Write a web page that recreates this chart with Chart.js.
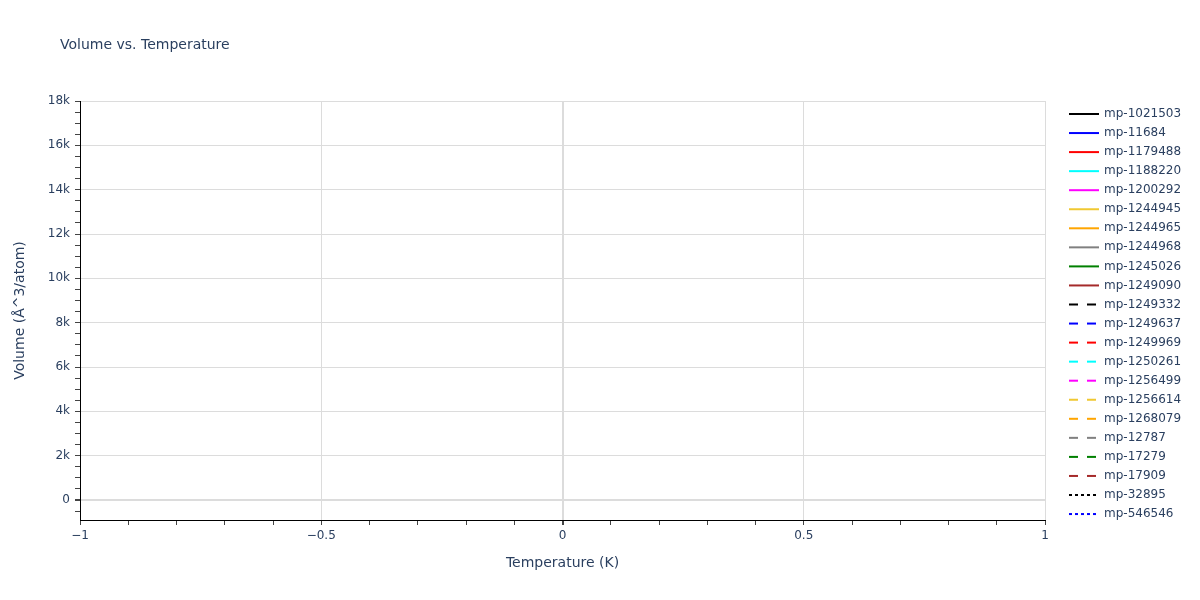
<!DOCTYPE html>
<html>
<head>
<meta charset="utf-8">
<title>Volume vs. Temperature</title>
<script src="https://cdn.jsdelivr.net/npm/chart.js@4/dist/chart.umd.min.js"></script>
<style>
  html, body { margin: 0; padding: 0; background: #fff; }
  #wrap { width: 1200px; height: 600px; }
</style>
</head>
<body>
<div id="wrap"><canvas id="volume" width="1200" height="600"></canvas></div>
<script>
// series as listed in the legend
var seriesNames = ['mp-1021503', 'mp-11684', 'mp-1179488', 'mp-1188220', 'mp-1200292', 'mp-1244945',
    'mp-1244965', 'mp-1244968', 'mp-1245026', 'mp-1249090', 'mp-1249332', 'mp-1249637', 'mp-1249969',
    'mp-1250261', 'mp-1256499', 'mp-1256614', 'mp-1268079', 'mp-12787', 'mp-17279', 'mp-17909',
    'mp-32895', 'mp-546546'];
var seriesColors = ['#000000', '#0000ff', '#ff0000', '#00ffff', '#ff00ff', '#f0c832', '#ffa500', '#808080',
    '#008000', '#a52a2a', '#000000', '#0000ff', '#ff0000', '#00ffff', '#ff00ff', '#f0c832', '#ffa500',
    '#808080', '#008000', '#a52a2a', '#000000', '#0000ff'];
var seriesDash = ['solid', 'solid', 'solid', 'solid', 'solid', 'solid', 'solid', 'solid', 'solid', 'solid',
    'dash', 'dash', 'dash', 'dash', 'dash', 'dash', 'dash', 'dash', 'dash', 'dash', 'dot', 'dot'];

// no points are plotted in the reference: every series is empty
var temperatures = [];
var volumes = [[], [], [], [], [], [], [], [], [], [], [], [], [], [], [], [], [], [], [], [], [], []];

// axis ticks
var xTicks = [-1, -0.9, -0.8, -0.7, -0.6, -0.5, -0.4, -0.3, -0.2, -0.1, 0,
    0.1, 0.2, 0.3, 0.4, 0.5, 0.6, 0.7, 0.8, 0.9, 1];
var xMajor = [-1, -0.5, 0, 0.5, 1];
var xTickLabels = ['\u22121', '\u22120.5', '0', '0.5', '1'];
var yMajor = [0, 2000, 4000, 6000, 8000, 10000, 12000, 14000, 16000, 18000];
var yTickLabels = ['0', '2k', '4k', '6k', '8k', '10k', '12k', '14k', '16k', '18k'];
var yMinorStep = 500;

var dashPatterns = { solid: [], dash: [9, 9], dot: [3, 3] };
var textColor = '#2a3f5f';
var gridColor = '#dcdcdc';

Chart.defaults.font.family = "'DejaVu Sans', sans-serif";
Chart.defaults.font.size = 12;
Chart.defaults.color = textColor;

function majorIndex(list, v) {
    for (var i = 0; i < list.length; i++) {
        if (Math.abs(list[i] - v) < 1e-6) return i;
    }
    return -1;
}

var datasets = seriesNames.map(function (name, i) {
    return {
        label: name,
        data: volumes[i].map(function (v, j) { return { x: temperatures[j], y: v }; }),
        borderColor: seriesColors[i],
        backgroundColor: seriesColors[i],
        borderWidth: 2,
        borderDash: dashPatterns[seriesDash[i]],
        pointRadius: 0,
        fill: false
    };
});

// title and legend drawn straight on the canvas, in the plotly spots
var extrasPlugin = {
    id: 'extras',
    afterDraw: function (chart) {
        var ctx = chart.ctx;
        ctx.save();
        ctx.fillStyle = textColor;
        ctx.textBaseline = 'middle';
        ctx.textAlign = 'left';
        ctx.font = "14px 'DejaVu Sans', sans-serif";
        ctx.fillText('Volume vs. Temperature', 60, 45);

        ctx.font = "12px 'DejaVu Sans', sans-serif";
        chart.data.datasets.forEach(function (ds, i) {
            var y = 114 + i * 19.05;
            ctx.beginPath();
            ctx.strokeStyle = ds.borderColor;
            ctx.lineWidth = 2;
            ctx.setLineDash(ds.borderDash);
            ctx.moveTo(1069, y);
            ctx.lineTo(1099, y);
            ctx.stroke();
            ctx.setLineDash([]);
            ctx.fillText(ds.label, 1104, y);
        });
        ctx.restore();
    }
};

var chart = new Chart(document.getElementById('volume'), {
    type: 'line',
    data: { datasets: datasets },
    plugins: [extrasPlugin],
    options: {
        responsive: false,
        animation: false,
        layout: { padding: { top: 101, right: 155, bottom: 0, left: 0 } },
        plugins: {
            legend: { display: false },
            title: { display: false },
            tooltip: { enabled: false }
        },
        scales: {
            x: {
                type: 'linear',
                min: -1,
                max: 1,
                afterFit: function (scale) { scale.height = 80; },
                afterBuildTicks: function (scale) {
                    scale.ticks = xTicks.map(function (v) { return { value: v }; });
                },
                ticks: {
                    autoSkip: false,
                    maxRotation: 0,
                    padding: 4,
                    color: textColor,
                    callback: function (v) {
                        var k = majorIndex(xMajor, v);
                        return k < 0 ? '' : xTickLabels[k];
                    }
                },
                grid: {
                    tickLength: 5,
                    tickColor: '#444',
                    color: function (c) {
                        return majorIndex(xMajor, c.tick.value) < 0 ? 'rgba(0,0,0,0)' : gridColor;
                    },
                    lineWidth: function (c) {
                        return Math.abs(c.tick.value) < 1e-6 ? 2 : 1;
                    }
                },
                border: { display: true, color: '#000', width: 1 },
                title: {
                    display: true,
                    text: 'Temperature (K)',
                    color: textColor,
                    font: { size: 14 },
                    padding: { top: 0, bottom: 28.6 }
                }
            },
            y: {
                type: 'linear',
                min: -900,
                max: 18000,
                afterFit: function (scale) { scale.width = 80; },
                afterBuildTicks: function (scale) {
                    var t = [];
                    for (var v = -yMinorStep; v <= 18000; v += yMinorStep) t.push({ value: v });
                    scale.ticks = t;
                },
                ticks: {
                    autoSkip: false,
                    padding: 5,
                    color: textColor,
                    callback: function (v) {
                        var k = majorIndex(yMajor, v);
                        return k < 0 ? '' : yTickLabels[k];
                    }
                },
                grid: {
                    tickLength: 5,
                    tickColor: '#444',
                    color: function (c) {
                        return majorIndex(yMajor, c.tick.value) < 0 ? 'rgba(0,0,0,0)' : gridColor;
                    },
                    lineWidth: function (c) {
                        return c.tick.value === 0 ? 2 : 1;
                    }
                },
                border: { display: true, color: '#000', width: 1 },
                title: {
                    display: true,
                    text: 'Volume (\u00c5^3/atom)',
                    color: textColor,
                    font: { size: 14 },
                    padding: { top: 12, bottom: 0 }
                }
            }
        }
    }
});
</script>
</body>
</html>
